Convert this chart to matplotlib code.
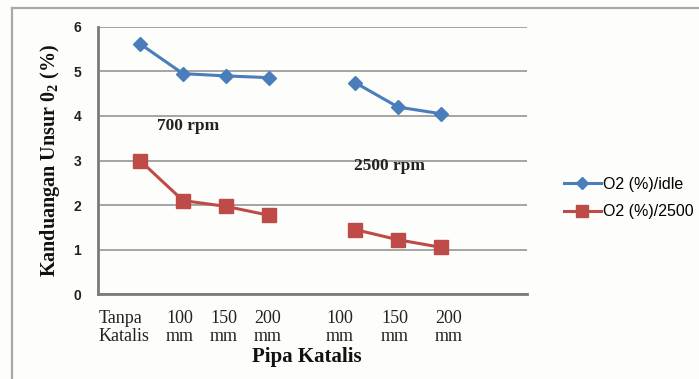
import matplotlib.pyplot as plt
from matplotlib.lines import Line2D

# O2 content per catalyst pipe length, idle (700 rpm) and 2500 rpm
pos_idle = [1, 2, 3, 4]
pos_2500 = [6, 7, 8]
o2_idle_700 = [5.62, 4.95, 4.9, 4.86]
o2_idle_2500 = [4.75, 4.2, 4.05]
o2_2500_700 = [3.0, 2.1, 1.97, 1.77]
o2_2500_2500 = [1.45, 1.22, 1.05]

tick_labels = ['Tanpa\nKatalis', '100\nmm', '150\nmm', '200\nmm',
               '100\nmm', '150\nmm', '200\nmm']

BLUE = '#4a7ebb'
RED = '#be4b48'
SERIF = 'Liberation Serif'
SANS = 'Liberation Sans'

plt.rcParams['mathtext.fontset'] = 'custom'
plt.rcParams['mathtext.rm'] = 'Liberation Serif:bold'

fig = plt.figure(figsize=(6.99, 3.79), dpi=100)
fig.patch.set_facecolor('#fdfdfb')

# outer chart frame (top and left edges only)
fig.add_artist(Line2D([0.017, 1.0], [0.979, 0.979], color='#a8a8a8', lw=1.6))
fig.add_artist(Line2D([0.017, 0.017], [0.0, 0.979], color='#a8a8a8', lw=1.6))

ax = fig.add_axes([0.140, 0.224, 0.614, 0.705])
ax.set_facecolor('none')

ax.plot(pos_idle, o2_idle_700, color=BLUE, lw=2.2, marker='D', ms=7.5,
        label='O2 (%)/idle')
ax.plot(pos_2500, o2_idle_2500, color=BLUE, lw=2.2, marker='D', ms=7.5)
ax.plot(pos_idle, o2_2500_700, color=RED, lw=2.2, marker='s', ms=9.5,
        label='O2 (%)/2500')
ax.plot(pos_2500, o2_2500_2500, color=RED, lw=2.2, marker='s', ms=9.5)

ax.set_xlim(0.02, 10)
ax.set_ylim(0, 6)
ax.set_yticks(range(0, 7))
ax.grid(axis='y', color='#8c8c8c', lw=1.1)
ax.set_axisbelow(True)
for s in ['top', 'right']:
    ax.spines[s].set_visible(False)
ax.spines['left'].set_color('#7a7a7a')
ax.spines['left'].set_linewidth(2)
ax.spines['bottom'].set_color('#7a7a7a')
ax.spines['bottom'].set_linewidth(2)
ax.tick_params(axis='both', length=0)
ax.tick_params(axis='y', pad=12)

for lab in ax.get_yticklabels():
    lab.set_fontfamily(SANS)
    lab.set_fontweight('bold')
    lab.set_fontsize(10)
    lab.set_color('#222222')

# category labels under the axis
ax.set_xticks([])
label_x = [0.03, 1.93, 2.94, 3.96, 5.65, 6.92, 8.18]
for i, (x, t) in enumerate(zip(label_x, tick_labels)):
    ax.text(x, -0.35, t, ha='left' if i == 0 else 'center', va='top',
            fontfamily=SERIF, fontsize=13, linespacing=1.12,
            color='#222222')

ax.text(1.40, 3.69, '700 rpm', fontfamily=SERIF, fontweight='bold',
        fontsize=12.5, color='#222222')
ax.text(5.97, 2.79, '2500 rpm', fontfamily=SERIF, fontweight='bold',
        fontsize=12.5, color='#222222')

ax.text(4.87, -1.41, 'Pipa Katalis', ha='center', va='center',
        fontfamily=SERIF, fontweight='bold', fontsize=15, color='#111111')
ax.set_ylabel(r'Kanduangan Unsur 0$_{\mathrm{2}}$ (%)', fontfamily=SERIF,
              fontweight='bold', fontsize=14.5, labelpad=8, color='#111111')

leg = ax.legend(loc='center left', bbox_to_anchor=(1.086, 0.36),
                frameon=False, prop={'family': SANS, 'size': 11.5},
                handlelength=2.3, handletextpad=0.15, labelspacing=0.8,
                borderaxespad=0, borderpad=0, markerscale=0.85)

fig.savefig('out.png', dpi=100, facecolor=fig.get_facecolor())
